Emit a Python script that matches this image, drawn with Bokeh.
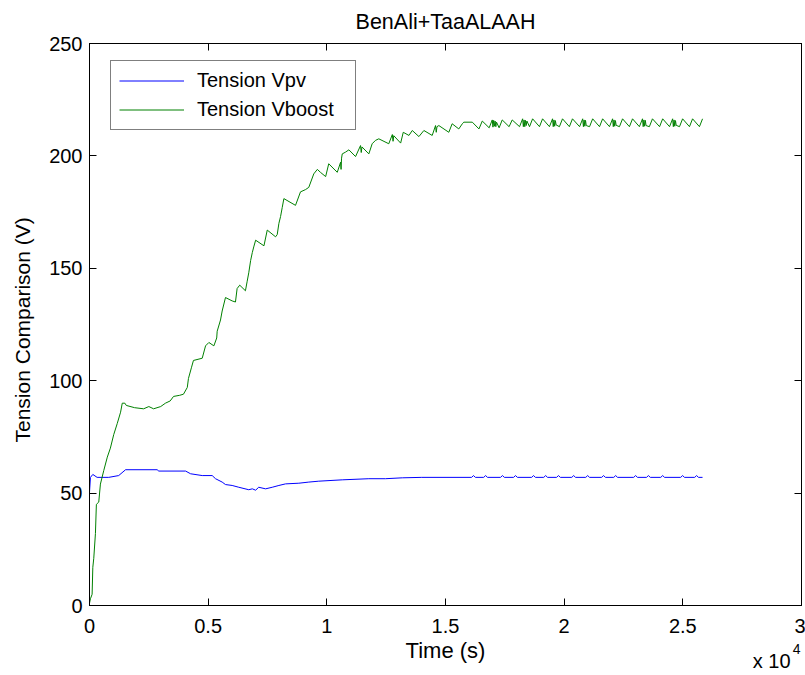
from bokeh.plotting import figure
from bokeh.models import Range1d, LinearAxis, Legend, LegendItem, FixedTicker, Title
from bokeh.embed import file_html
from bokeh.resources import INLINE

# ---- data (time in units of 1e4 s) ----
time_vboost = [
    0.000, 0.004, 0.011, 0.014, 0.018, 0.025, 0.029, 0.039, 0.046, 0.060,
    0.075, 0.088, 0.102, 0.117, 0.131, 0.138, 0.149, 0.155, 0.190, 0.228,
    0.250, 0.270, 0.300, 0.320, 0.340, 0.354, 0.380, 0.396, 0.412, 0.417,
    0.430, 0.438, 0.475, 0.489, 0.503, 0.524, 0.536, 0.538, 0.552, 0.559,
    0.573, 0.601, 0.615, 0.622, 0.633, 0.657, 0.664, 0.671, 0.679, 0.686,
    0.692, 0.700, 0.735, 0.749, 0.784, 0.791, 0.798, 0.805, 0.812, 0.819,
    0.868, 0.889, 0.910, 0.924, 0.945, 0.960, 0.973, 0.995, 1.008, 1.044,
    1.058, 1.060, 1.062, 1.065, 1.079, 1.093, 1.121, 1.142, 1.145, 1.148,
    1.177, 1.191, 1.205, 1.219, 1.261, 1.276, 1.279, 1.282, 1.311, 1.322,
    1.346, 1.360, 1.388, 1.409, 1.444, 1.458, 1.461, 1.464, 1.472, 1.514,
    1.528, 1.556, 1.571, 1.577, 1.613, 1.641,
    1.655, 1.684, 1.697, 1.700, 1.703, 1.706, 1.709, 1.712, 1.715, 1.726,
    1.739, 1.768, 1.781, 1.812, 1.825, 1.828, 1.831, 1.834, 1.837, 1.840,
    1.843, 1.854, 1.867, 1.896, 1.909, 1.938, 1.951, 1.954, 1.957, 1.960,
    1.963, 1.966, 1.980, 1.993, 2.022, 2.035, 2.065, 2.078, 2.081, 2.084,
    2.087, 2.090, 2.093, 2.107, 2.120, 2.149, 2.162, 2.191, 2.204, 2.207,
    2.210, 2.213, 2.216, 2.219, 2.233, 2.246, 2.275, 2.288, 2.317, 2.330,
    2.333, 2.336, 2.339, 2.342, 2.345, 2.359, 2.372, 2.402, 2.415, 2.444,
    2.457, 2.460, 2.463, 2.466, 2.469, 2.472, 2.486, 2.499, 2.528, 2.541,
    2.570, 2.583,
]
vboost = [
    1.0, 3.0, 5.0, 17.0, 21.0, 32.0, 45.0, 46.0, 54.0, 60.0,
    66.0, 70.0, 76.0, 81.0, 86.0, 90.0, 90.0, 89.0, 88.0, 87.5,
    88.5, 87.5, 88.5, 90.0, 91.0, 93.0, 93.5, 94.0, 97.0, 101.0,
    106.0, 109.0, 110.0, 115.5, 117.0, 115.5, 119.0, 122.0, 127.0, 131.0,
    137.0, 135.5, 135.0, 141.0, 142.5, 140.0, 144.0, 148.0, 153.5, 157.0,
    159.5, 162.5, 160.0, 167.0, 164.0, 165.0, 170.0, 173.0, 177.0, 181.0,
    178.0, 184.0, 185.0, 186.0, 192.0, 194.0, 192.7, 190.8, 196.5, 192.7,
    197.2, 194.0, 199.0, 200.9, 201.7, 202.7, 199.7, 204.6, 201.5, 204.0,
    200.9, 205.4, 206.9, 207.6, 205.4, 209.5, 206.5, 209.0, 205.7, 210.5,
    209.1, 211.3, 208.6, 211.3, 209.1, 213.5, 210.5, 213.0, 213.5, 210.5,
    214.3, 212.0, 214.3, 215.0, 215.0, 212.0,
    215.5, 212.5, 216.0, 212.8, 215.8, 213.2, 215.5, 213.0, 215.0, 212.5,
    216.0, 213.0, 216.0, 213.0, 216.5, 213.0, 216.0, 213.0, 215.8, 213.5,
    215.5, 213.0, 216.5, 213.0, 216.5, 213.0, 216.5, 213.0, 216.0, 213.2,
    215.7, 213.8, 213.0, 216.5, 213.0, 216.5, 213.0, 216.5, 213.0, 216.0,
    213.2, 215.8, 213.5, 213.0, 216.5, 213.0, 216.5, 213.0, 216.5, 213.0,
    216.0, 213.2, 215.7, 213.6, 213.0, 216.5, 213.0, 216.5, 213.0, 216.5,
    213.0, 216.0, 213.2, 215.8, 213.5, 213.0, 216.5, 213.0, 216.5, 213.0,
    216.5, 213.0, 216.0, 213.2, 215.7, 213.6, 213.0, 216.5, 213.0, 216.5,
    213.0, 216.5,
]

time_vpv = [
    0.000, 0.000, 0.004, 0.014, 0.032, 0.081, 0.123, 0.152, 0.285, 0.292,
    0.405, 0.426, 0.475, 0.517, 0.531, 0.559, 0.573, 0.601, 0.629, 0.671,
    0.686, 0.700, 0.713, 0.742, 0.770, 0.798, 0.826, 0.882, 0.924, 0.966,
    1.065, 1.177, 1.247, 1.318, 1.400,
    1.610, 1.618, 1.626, 1.661, 1.669, 1.677, 1.732, 1.740, 1.748,
    1.787, 1.795, 1.803, 1.863, 1.871, 1.879, 1.914, 1.922, 1.930,
    1.968, 1.976, 1.984, 2.032, 2.040, 2.048, 2.091, 2.099, 2.107,
    2.158, 2.166, 2.174, 2.209, 2.217, 2.225, 2.293, 2.301, 2.309,
    2.347, 2.355, 2.363, 2.407, 2.415, 2.423, 2.491, 2.499, 2.507,
    2.550, 2.558, 2.566, 2.583,
]
vpv = [
    26.0, 50.4, 57.0, 58.3, 57.0, 57.0, 57.8, 60.4, 60.4, 59.8,
    59.8, 58.6, 57.8, 57.8, 56.4, 54.9, 53.8, 53.4, 52.6, 51.5,
    51.9, 51.3, 52.6, 51.9, 52.6, 53.4, 54.1, 54.4, 54.9, 55.3,
    55.9, 56.4, 56.4, 56.8, 57.0,
    57.0, 57.8, 57.0, 57.0, 57.8, 57.0, 57.0, 57.8, 57.0,
    57.0, 57.8, 57.0, 57.0, 57.8, 57.0, 57.0, 57.8, 57.0,
    57.0, 57.8, 57.0, 57.0, 57.8, 57.0, 57.0, 57.8, 57.0,
    57.0, 57.8, 57.0, 57.0, 57.8, 57.0, 57.0, 57.8, 57.0,
    57.0, 57.8, 57.0, 57.0, 57.8, 57.0, 57.0, 57.8, 57.0,
    57.0, 57.8, 57.0, 57.0,
]

x_ticks = [0, 0.5, 1, 1.5, 2, 2.5, 3]
x_tick_labels = ["0", "0.5", "1", "1.5", "2", "2.5", "3"]
y_ticks = [0, 50, 100, 150, 200, 250]
series_names = ["Tension Vpv", "Tension Vboost"]
series_colors = ["#0000ff", "#008000"]
title_text = "BenAli+TaaALAAH"
x_label = "Time (s)"
x_scale_base = "x 10"
x_scale_power = "4"
y_label = "Tension Comparison (V)"

FONT = "Liberation Sans"
FS = "20px"

p = figure(width=805, height=675, output_backend="svg", toolbar_location=None,
           x_range=Range1d(0, 3), y_range=Range1d(0, 250),
           min_border_left=89, min_border_right=4, min_border_top=43,
           min_border_bottom=70, background_fill_color="white",
           border_fill_color="white")
p.grid.visible = False
p.outline_line_color = "black"
p.outline_line_width = 1

p.title.text = title_text
p.title.align = "center"
p.title.vertical_align = "top"
p.title.text_font = FONT
p.title.text_font_size = "21.5px"
p.title.text_font_style = "normal"
p.title.text_color = "black"
p.title.standoff = 15


def style_axis(ax):
    ax.axis_line_color = "black"
    ax.major_tick_line_color = "black"
    ax.major_tick_in = 7
    ax.major_tick_out = 0
    ax.minor_tick_in = 0
    ax.minor_tick_out = 0
    ax.major_label_text_font = FONT
    ax.major_label_text_color = "black"
    ax.major_label_text_font_size = FS
    ax.axis_label_text_font = FONT
    ax.axis_label_text_color = "black"
    ax.axis_label_text_font_style = "normal"


xa = p.xaxis[0]
xa.ticker = FixedTicker(ticks=x_ticks)
xa.major_label_overrides = {float(t): s for t, s in zip(x_ticks, x_tick_labels)}
style_axis(xa)
xa.major_label_standoff = 13
xa.axis_label = x_label
xa.axis_label_text_font_size = "22px"
xa.axis_label_standoff = 2

ya = p.yaxis[0]
ya.ticker = FixedTicker(ticks=y_ticks)
style_axis(ya)
ya.major_label_standoff = 7

# y label as a side title (starts just above y = 70 V, like the reference)
ylab = Title(text=y_label, align="left", vertical_align="top", offset=163,
             standoff=21, text_font=FONT, text_font_size="21px",
             text_font_style="normal", text_color="black")
p.add_layout(ylab, "left")

# scale note "x 10^4" at the right end, under the x axis
expo_base = Title(text=x_scale_base, align="right", vertical_align="top",
                  offset=11, standoff=-32, text_font=FONT, text_font_size=FS,
                  text_font_style="normal", text_color="black")
p.add_layout(expo_base, "below")
expo_pow = Title(text=x_scale_power, align="right", vertical_align="top",
                 offset=1, standoff=-44, text_font=FONT, text_font_size="14px",
                 text_font_style="normal", text_color="black")
p.add_layout(expo_pow, "below")

# inward ticks on the top and right edges (MATLAB-style box)
top = LinearAxis(ticker=FixedTicker(ticks=x_ticks))
style_axis(top)
top.major_label_overrides = {float(t): "" for t in x_ticks}
top.major_label_text_font_size = "1px"
top.major_label_standoff = 0
p.add_layout(top, "above")
right = LinearAxis(ticker=FixedTicker(ticks=y_ticks))
style_axis(right)
right.major_label_overrides = {float(t): "" for t in y_ticks}
right.major_label_text_font_size = "1px"
right.major_label_standoff = 0
p.add_layout(right, "right")

r_vpv = p.line(time_vpv, vpv, line_color=series_colors[0], line_width=1)
r_vb = p.line(time_vboost, vboost, line_color=series_colors[1], line_width=1)

legend = Legend(items=[LegendItem(label=series_names[0], renderers=[r_vpv]),
                       LegendItem(label=series_names[1], renderers=[r_vb])],
                location=(21, 475))
legend.label_text_font = FONT
legend.label_text_font_size = FS
legend.label_text_color = "black"
legend.border_line_color = "black"
legend.border_line_width = 1
legend.background_fill_color = "white"
legend.background_fill_alpha = 1
legend.padding = 8
legend.spacing = 6
legend.glyph_width = 65
legend.glyph_height = 23
legend.label_height = 23
legend.label_width = 150
legend.label_standoff = 13
legend.margin = 0
p.add_layout(legend, "center")

open("out.html", "w").write(file_html(p, INLINE))
